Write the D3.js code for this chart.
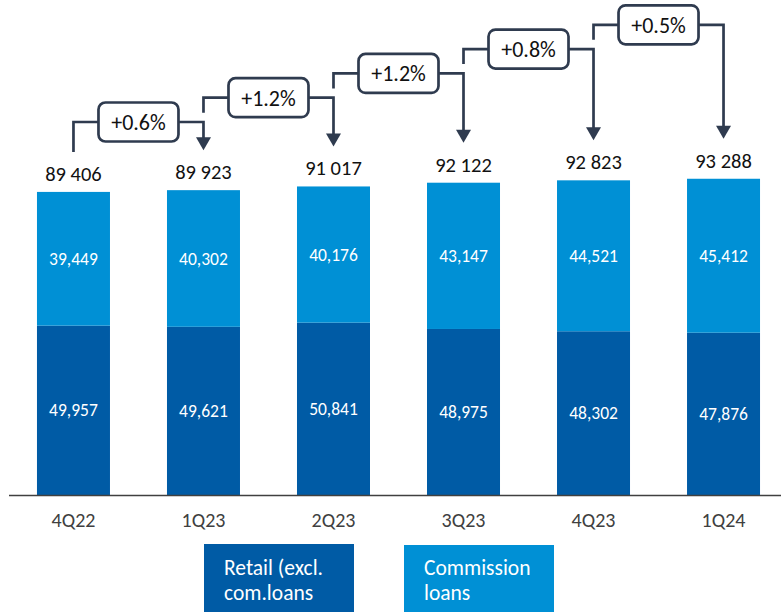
<!DOCTYPE html>
<html>
<head>
<meta charset="utf-8">
<script src="https://d3js.org/d3.v7.min.js"></script>
<style>
  body { margin: 0; background: #fff; }
  text { font-family: Carlito, Calibri, "Open Sans", sans-serif; }
</style>
</head>
<body>
<script>

// chart values
var quarters = ["4Q22", "1Q23", "2Q23", "3Q23", "4Q23", "1Q24"];
var retail = [49957, 49621, 50841, 48975, 48302, 47876];
var commission = [39449, 40302, 40176, 43147, 44521, 45412];
var growth = ["+0.6%", "+1.2%", "+1.2%", "+0.8%", "+0.5%"];
var legendNames = [["Retail (excl.", "com.loans"], ["Commission", "loans"]];

var darkBlue = "#005BA5",
    lightBlue = "#0090D5",
    lineCol = "#2F3B4F";

var width = 781, height = 612;

var svg = d3.select("body")
  .append("svg")
    .attr("width", width)
    .attr("height", height);

var data = quarters.map(function(q, i) {
  return { q: q, retail: retail[i], comm: commission[i], total: retail[i] + commission[i] };
});

// scales
var x = d3.scaleBand()
  .domain(quarters)
  .range([8.5, 788.5])
  .paddingInner(0.4385)
  .paddingOuter(0.219);

var y = d3.scaleLinear()
  .domain([0, 100000])
  .range([495, 156]);

var fmtSpace = function(v) { return d3.format(",")(v).replace(/,/g, " "); };
var fmtComma = d3.format(",");

// bars
var g = svg.append("g");

g.selectAll(".retail").data(data)
  .enter().append("rect")
    .attr("class", "retail")
    .attr("x", function(d) { return x(d.q); })
    .attr("width", x.bandwidth())
    .attr("y", function(d) { return y(d.retail); })
    .attr("height", function(d) { return y(0) - y(d.retail); })
    .attr("fill", darkBlue);

g.selectAll(".comm").data(data)
  .enter().append("rect")
    .attr("class", "comm")
    .attr("x", function(d) { return x(d.q); })
    .attr("width", x.bandwidth())
    .attr("y", function(d) { return y(d.total); })
    .attr("height", function(d) { return y(d.retail) - y(d.total); })
    .attr("fill", lightBlue);

// values inside segments
g.selectAll(".lblRetail").data(data)
  .enter().append("text")
    .attr("x", function(d) { return x(d.q) + x.bandwidth() / 2; })
    .attr("y", function(d) { return y(d.retail / 2); })
    .attr("dy", "0.35em")
    .attr("text-anchor", "middle")
    .attr("fill", "#fff")
    .style("font-size", "17.5px")
    .text(function(d) { return fmtComma(d.retail); });

g.selectAll(".lblComm").data(data)
  .enter().append("text")
    .attr("x", function(d) { return x(d.q) + x.bandwidth() / 2; })
    .attr("y", function(d) { return y(d.retail + d.comm / 2); })
    .attr("dy", "0.35em")
    .attr("text-anchor", "middle")
    .attr("fill", "#fff")
    .style("font-size", "17.5px")
    .text(function(d) { return fmtComma(d.comm); });

// totals
g.selectAll(".lblTotal").data(data)
  .enter().append("text")
    .attr("x", function(d) { return x(d.q) + x.bandwidth() / 2; })
    .attr("y", function(d) { return y(d.total) - 11; })
    .attr("text-anchor", "middle")
    .attr("fill", "#111")
    .style("font-size", "20.5px")
    .text(function(d) { return fmtSpace(d.total); });

// x axis
var axis = svg.append("g")
  .attr("transform", "translate(0,495)")
  .call(d3.axisBottom(x).tickSize(0));
axis.select(".domain").attr("stroke", "#404040").attr("stroke-width", 1.3);
axis.selectAll("text")
  .attr("y", 32)
  .attr("dy", null)
  .attr("fill", "#404040")
  .style("font-size", "20px")
  .style("font-family", "Carlito, Calibri, 'Open Sans', sans-serif");

// growth connectors
var cx = function(i) { return x(quarters[i]) + x.bandwidth() / 2; };
var conn = svg.append("g");

growth.forEach(function(txt, i) {
  var level = 122 - i * 24.3;
  var x0 = cx(i), x1 = cx(i + 1);
  var start = i === 0 ? y(data[0].total) - 40 : level + 15;
  var tip = y(data[i + 1].total) - 40;

  conn.append("path")
    .attr("d", "M" + x0 + "," + start + "V" + level + "H" + x1 + "V" + (tip - 10))
    .attr("fill", "none")
    .attr("stroke", lineCol)
    .attr("stroke-width", 2.7);

  conn.append("path")
    .attr("d", "M" + (x1 - 7.5) + "," + (tip - 13) + "L" + (x1 + 7.5) + "," + (tip - 13) + "L" + x1 + "," + tip + "Z")
    .attr("fill", lineCol);

  var bw = 80, bh = 39, bx = (x0 + x1) / 2;
  conn.append("rect")
    .attr("x", bx - bw / 2)
    .attr("y", level - bh / 2)
    .attr("width", bw)
    .attr("height", bh)
    .attr("rx", 7)
    .attr("fill", "#fff")
    .attr("stroke", lineCol)
    .attr("stroke-width", 2.7);

  conn.append("text")
    .attr("x", bx)
    .attr("y", level)
    .attr("dy", "0.36em")
    .attr("text-anchor", "middle")
    .attr("fill", "#111")
    .style("font-size", "22px")
    .text(txt);
});

// legend
var legend = svg.append("g");
var legendCols = [darkBlue, lightBlue];
legendNames.forEach(function(lines, i) {
  var lx = 204 + i * 200, ly = 544 + i;
  legend.append("rect")
    .attr("x", lx).attr("y", ly)
    .attr("width", 150).attr("height", 72)
    .attr("fill", legendCols[i]);
  lines.forEach(function(l, j) {
    legend.append("text")
      .attr("x", lx + 20)
      .attr("y", 575 + j * 25)
      .attr("fill", "#fff")
      .style("font-size", "21.5px")
      .text(l);
  });
});

</script>
</body>
</html>
